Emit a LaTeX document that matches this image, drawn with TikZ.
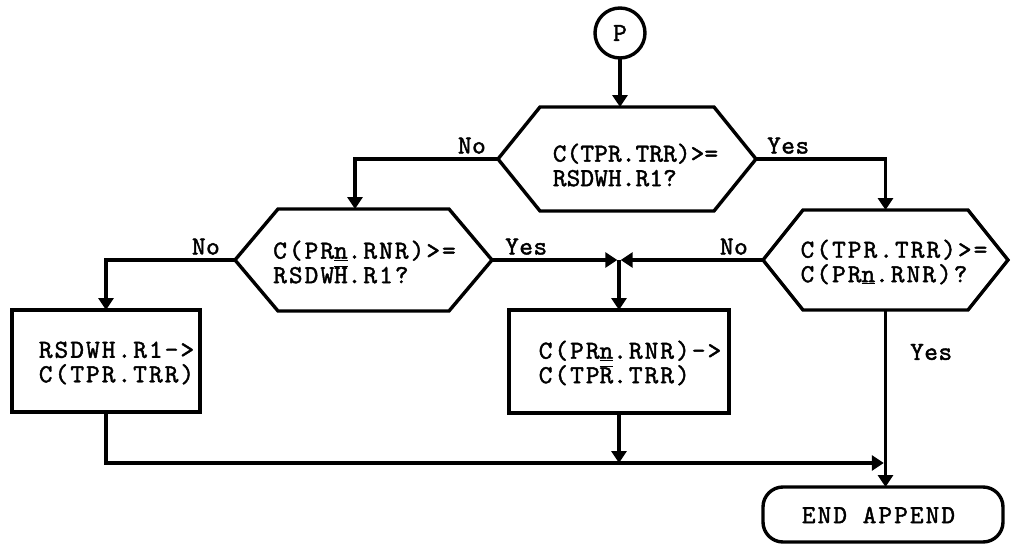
\documentclass[tikz,border=0pt]{standalone}
\usepackage{fontspec}
\newfontfamily\tw{lmmono10-regular.otf}[LetterSpace=8,FakeBold=1.6]
\newfontfamily\twn{lmmono10-regular.otf}[LetterSpace=0.5,FakeBold=1.6]
\newfontfamily\twl{lmmono10-regular.otf}[LetterSpace=2,FakeBold=1.6]
\usetikzlibrary{arrows.meta,calc}
\newcommand\ovl[1]{$\overline{\hbox{#1}}$}
\newcommand\drawhex[2]{\draw[lw] ([xshift=#2]#1.north west) -- ([xshift=-#2]#1.north east) -- (#1.east) -- ([xshift=-#2]#1.south east) -- ([xshift=#2]#1.south west) -- (#1.west) -- cycle;}
\tikzset{
  lw/.style={line width=3.4pt, line join=miter},
  conn/.style={line width=3.4pt, -{Triangle[width=15pt,length=12pt]}},
  hexbase/.style={rectangle, inner sep=0pt, outer sep=0pt},
  procbox/.style={rectangle, draw, line width=3.4pt, inner sep=0pt, outer sep=0pt},
  endbox/.style={rectangle, draw, line width=3.4pt, rounded corners=20pt, inner sep=0pt, outer sep=0pt},
  circ/.style={circle, draw, line width=3.4pt, minimum size=50pt, inner sep=0pt, outer sep=0pt, font=\tw\fontsize{26}{24.5}\selectfont},
  txt/.style={inner sep=0pt, align=left, font=\tw\fontsize{26}{24.5}\selectfont},
  txtn/.style={inner sep=0pt, align=left, font=\twn\fontsize{26}{24.5}\selectfont},
  lbl/.style={inner sep=0pt, font=\twl\fontsize{26}{24.5}\selectfont}
}
\begin{document}
\begin{tikzpicture}[x=1pt,y=-1pt]
\fill[white] (0,0) rectangle (1013,544);
\useasboundingbox (0,0) rectangle (1013,544);

% shapes
\node[circ] (P) at (620,33) {P};
\node[hexbase, minimum width=258pt, minimum height=104pt] (h1) at (627,159) {};
\drawhex{h1}{42pt}
\node[txtn] (t1) at (635.5,165) {C(TPR.TRR)>=\\RSDWH.R1?};

\node[hexbase, minimum width=257pt, minimum height=102pt] (h2) at (363.5,260) {};
\drawhex{h2}{43pt}
\node[txt] (t2) at (364.5,262) {C(PR\underline{n}.RNR)>=\\RSDW\ovl{H}.R1?};

\node[hexbase, minimum width=245pt, minimum height=100pt] (h3) at (885.5,260) {};
\drawhex{h3}{40pt}
\node[txt] (t3) at (894,262) {C(TPR.TRR)>=\\C(PR\underline{n}.RNR)?};

\node[procbox, minimum width=188pt, minimum height=102pt] (b1) at (106,361) {};
\node[txt] (t4) at (116.5,363) {RSDWH.R1->\\C(TPR.TRR)};

\node[procbox, minimum width=220pt, minimum height=103pt] (b2) at (619,361.5) {};
\node[txt] (t5) at (630,363) {C(PR\underline{n}.RNR)->\\C(TP\ovl{R}.TRR)};

\node[endbox, minimum width=240pt, minimum height=55pt] (e) at (883,514.5) {};
\node[txt] (t6) at (878.5,515) {END APPEND};

% junction points
\coordinate (J) at (619,260);
\coordinate (M) at (885.5,463);
\coordinate (k1) at (355,159);

% connectors
\draw[conn] (P.south) -- (P.south |- h1.north);
\draw[conn] (h1.west) -| (k1 |- h2.north);
\draw[conn] (h1.east) -| (h3.north);
\draw[conn] (h2.west) -| (b1.north);
\draw[conn, shorten >=1.7pt] (h2.east) -- (J);
\draw[conn, shorten >=1.7pt] (h3.west) -- (J);
\draw[conn] (J) -- (J |- b2.north);
\draw[conn, shorten >=1.7pt] (b1.south) |- (M);
\draw[conn] (b2.south) -- (b2.south |- M);
\draw[conn] (h3.south) -- (h3.south |- e.north);

% labels
\node[lbl, anchor=base east] (n1) at ([xshift=-12pt, yshift=5.5pt]h1.west) {No};
\node[lbl, anchor=base west] (y1) at ([xshift=11pt, yshift=5.5pt]h1.east) {Yes};
\node[lbl, anchor=base east] (n2) at ([xshift=-15pt, yshift=5.5pt]h2.west) {No};
\node[lbl, anchor=base west] (y2) at ([xshift=13pt, yshift=5.5pt]h2.east) {Yes};
\node[lbl, anchor=base east] (n3) at ([xshift=-15pt, yshift=5.5pt]h3.west) {No};
\node[lbl, anchor=west] (y3) at (910,352) {Yes};
\end{tikzpicture}
\end{document}
